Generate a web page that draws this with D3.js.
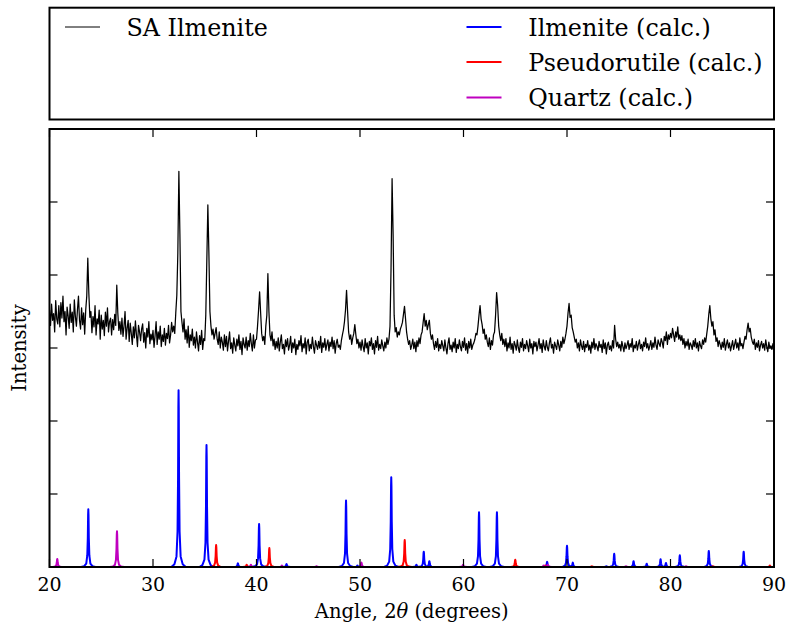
<!DOCTYPE html>
<html>
<head>
<meta charset="utf-8">
<script src="https://cdn.jsdelivr.net/npm/d3@7"></script>
<style>
  html, body { margin: 0; padding: 0; background: #fff; }
  svg { display: block; font-family: "DejaVu Serif", serif; }
</style>
</head>
<body>
<svg id="chart" width="790" height="630"></svg>
<script>
// ---------------- DATA ----------------
// Measured pattern: start angle, step (degrees), intensities (arb. units x100)
const saStart = 20.0;
const saStep = 0.1;
const saIntensity = [
  352,331,360,338,347,322,365,340,333,358,
  329,362,341,371,336,350,318,356,344,327,
  360,335,349,322,366,343,330,352,371,338,
  326,355,332,348,319,352,371,423,375,342,
  350,321,343,329,358,318,340,333,352,312,
  345,326,338,317,349,330,355,322,336,341,
  318,339,325,346,331,386,348,324,336,319,
  341,316,330,350,312,327,338,309,334,320,
  305,329,314,337,318,302,331,322,310,326,
  333,308,321,300,327,315,336,306,319,311,
  324,301,317,336,305,322,312,330,302,318,
  309,327,304,320,313,331,307,318,335,322,
  330,320,348,372,430,542,455,350,335,322,
  340,312,325,307,330,301,318,310,326,304,
  315,300,322,308,296,317,305,324,298,313,
  310,345,420,496,430,350,330,318,326,312,
  320,328,312,305,322,300,315,308,297,318,
  302,316,296,310,322,299,307,293,314,304,
  296,312,303,318,298,309,291,314,305,300,
  315,297,310,302,320,306,296,318,300,311,
  312,330,352,377,348,320,310,316,305,330,
  345,402,350,318,310,322,303,312,298,309,
  300,314,296,308,318,299,305,292,311,302,
  313,297,304,316,294,307,300,312,291,305,
  298,310,303,317,295,306,300,314,292,308,
  312,296,305,299,315,302,293,310,304,298,
  309,300,316,294,307,301,313,297,305,311,
  296,308,302,315,299,310,293,306,312,301,
  304,298,310,318,325,336,352,379,350,322,
  312,318,305,314,320,332,318,306,312,300,
  308,297,311,302,295,313,300,307,292,309,
  303,314,298,306,292,310,301,316,297,305,
  299,311,303,296,308,300,314,305,312,330,
  410,532,455,345,322,328,315,322,318,326,
  330,335,346,357,340,322,312,305,310,298,
  304,312,299,308,295,310,302,314,306,318,
  322,335,347,330,338,325,332,338,320,312,
  318,306,298,309,301,313,296,305,299,310,
  303,296,311,300,292,306,314,298,304,295,
  308,300,313,294,305,299,311,302,296,309,
  301,314,297,306,293,309,300,312,298,304,
  307,312,320,318,330,345,358,340,332,320,
  326,312,318,308,302,314,298,310,304,318,
  322,345,376,358,330,318,310,320,305,312,
  302,313,296,307,300,315,298,306,293,309,
  304,297,311,300,294,308,301,313,296,305,
  299,310,303,295,312,300,306,292,309,302,
  308,296,304,313,299,306,294,311,302,297,
  310,301,296,307,314,300,305,293,308,303,
  298,311,304,296,309,301,315,306,312,320,
  330,348,361,342,345,328,322,315,308,312,
  300,307,296,311,303,298,309,295,305,301,
  310,297,304,293,308,300,313,298,306,302,
  296,309,301,305,294,311,299,307,292,304,
  308,298,303,296,310,300,331,312,302,308,
  300,305,296,309,302,295,307,299,304,310,
  298,306,301,313,295,304,300,309,297,305,
  311,299,305,296,308,302,314,300,306,297,
  303,310,298,307,301,315,304,298,311,306,
  302,313,308,300,316,310,322,305,318,312,
  320,314,327,318,309,322,315,329,312,318,
  310,317,305,313,300,309,303,312,298,307,
  304,298,310,302,313,300,307,296,309,303,
  299,311,305,314,308,319,330,346,358,340,
  330,336,318,325,309,314,302,310,305,298,
  308,301,313,297,305,311,300,307,296,303,
  310,298,305,312,300,307,297,314,303,306,
  299,308,316,312,325,334,322,327,315,309,
  305,312,298,307,301,310,296,304,309,300,
  306,297,311,302,295,308,300,303,298,306,
  302
];

// Calculated patterns: peak positions (2theta) and heights (arb. units x100)
const ilmenitePos = [23.75,32.47,35.17,38.2,40.25,42.9,48.65,49.75,53.02,55.45,56.16,56.7,61.5,63.23,68.08,70.0,70.56,73.8,74.56,76.43,77.7,79.04,79.56,80.9,83.7,87.07];
const ilmeniteInt = [79,242,167,5,59,4,91,2,123,3,21,8,75,75,7,29,6,1,18,8,4.5,10.5,5.5,16,22,21];
const pseudorutilePos = [36.1,39.05,41.24,54.32,65.0,67.9,72.4,84.1,89.6];
const pseudorutileInt = [30,3,26,37,10,2,1,1,2];
const quartzPos = [20.75,26.52,39.46,42.45,45.8,50.14,59.96,67.74,68.14,75.7,81.5];
const quartzInt = [11,49,3,2,1,6,3,2,3,1,1];

const xTicks = [20,30,40,50,60,70,80,90];
const yTicks = [0,100,200,300,400,500,600];

const legendLeft = [{label: "SA Ilmenite", color: "#000000"}];
const legendRight = [
  {label: "Ilmenite (calc.)", color: "#0000ff"},
  {label: "Pseudorutile (calc.)", color: "#ff0000"},
  {label: "Quartz (calc.)", color: "#bf00bf"}
];

// ---------------- LAYOUT ----------------
const svg = d3.select("#chart");
const plot = {left: 49.5, right: 774, top: 129, bottom: 567};

const x = d3.scaleLinear().domain([20, 90]).range([plot.left, plot.right]);
const y = d3.scaleLinear().domain([0, 600]).range([plot.bottom, plot.top]);

svg.append("defs").append("clipPath").attr("id", "clip")
  .append("rect").attr("x", plot.left).attr("y", plot.top)
  .attr("width", plot.right - plot.left).attr("height", plot.bottom - plot.top);

const g = svg.append("g").attr("clip-path", "url(#clip)");

// Measured trace
const saData = saIntensity.map((v, i) => [saStart + i * saStep, v]);
const line = d3.line().x(d => x(d[0])).y(d => y(d[1]));
g.append("path").datum(saData)
  .attr("d", line).attr("fill", "none")
  .attr("stroke", "#000").attr("stroke-width", 1.25).attr("stroke-linejoin", "round");

// Peak profile template (style): offset in degrees, relative height
const profile = [[-0.7,0],[-0.4,0.015],[-0.2,0.06],[-0.1,0.2],[-0.05,0.5],[-0.02,0.9],[0,1],
                 [0.02,0.9],[0.05,0.5],[0.1,0.2],[0.2,0.06],[0.4,0.015],[0.7,0]];

function drawPhase(pos, ints, color) {
  const pg = g.append("g");
  pg.append("path").datum([[20,0],[90,0]]).attr("d", line)
    .attr("fill","none").attr("stroke", color).attr("stroke-width", 2);
  pos.forEach((p, i) => {
    const pts = profile.map(t => [p + t[0], ints[i] * t[1]]);
    pg.append("path").datum(pts).attr("d", line)
      .attr("fill", "none").attr("stroke", color).attr("stroke-width", 2)
      .attr("stroke-linejoin", "round");
  });
}
drawPhase(ilmenitePos, ilmeniteInt, "#0000ff");
drawPhase(pseudorutilePos, pseudorutileInt, "#ff0000");
drawPhase(quartzPos, quartzInt, "#bf00bf");

// Ticks (inward, all sides)
const tl = 8;
const axG = svg.append("g").attr("stroke", "#000").attr("stroke-width", 1.2);
xTicks.forEach(t => {
  axG.append("line").attr("x1", x(t)).attr("x2", x(t)).attr("y1", plot.bottom).attr("y2", plot.bottom - tl);
  axG.append("line").attr("x1", x(t)).attr("x2", x(t)).attr("y1", plot.top).attr("y2", plot.top + tl);
});
yTicks.forEach(t => {
  axG.append("line").attr("x1", plot.left).attr("x2", plot.left + tl).attr("y1", y(t)).attr("y2", y(t));
  axG.append("line").attr("x1", plot.right).attr("x2", plot.right - tl).attr("y1", y(t)).attr("y2", y(t));
});

// Frame
svg.append("rect").attr("x", plot.left).attr("y", plot.top)
  .attr("width", plot.right - plot.left).attr("height", plot.bottom - plot.top)
  .attr("fill", "none").attr("stroke", "#000").attr("stroke-width", 2);

// Tick labels
svg.append("g").selectAll("text").data(xTicks).join("text")
  .attr("x", d => x(d)).attr("y", 591).attr("text-anchor", "middle")
  .attr("font-size", 19).text(d => d);

// Axis labels
const xl = svg.append("text").attr("x", (plot.left + plot.right) / 2).attr("y", 618)
  .attr("text-anchor", "middle").attr("font-size", 19.5);
xl.append("tspan").text("Angle, 2");
xl.append("tspan").attr("font-style", "italic").text("θ");
xl.append("tspan").text(" (degrees)");

svg.append("text").attr("transform", "translate(26," + ((plot.top + plot.bottom) / 2) + ") rotate(-90)")
  .attr("text-anchor", "middle").attr("font-size", 19.5).text("Intensity");

// Legend
svg.append("rect").attr("x", 49.5).attr("y", 7.7).attr("width", 774 - 49.5).attr("height", 119.5 - 7.7)
  .attr("fill", "#fff").attr("stroke", "#000").attr("stroke-width", 2);
const rowsY = [27, 62, 97.5];
const rowsBase = [35.7, 71, 106];
legendLeft.forEach((d, i) => {
  svg.append("line").attr("x1", 65).attr("x2", 100).attr("y1", rowsY[i]).attr("y2", rowsY[i])
    .attr("stroke", d.color).attr("stroke-width", 1);
  svg.append("text").attr("x", 126.5).attr("y", rowsBase[i]).attr("font-size", 23.8).text(d.label);
});
legendRight.forEach((d, i) => {
  svg.append("line").attr("x1", 466.5).attr("x2", 501.5).attr("y1", rowsY[i]).attr("y2", rowsY[i])
    .attr("stroke", d.color).attr("stroke-width", 2);
  svg.append("text").attr("x", 528.3).attr("y", rowsBase[i]).attr("font-size", 23.8).text(d.label);
});
</script>
</body>
</html>
